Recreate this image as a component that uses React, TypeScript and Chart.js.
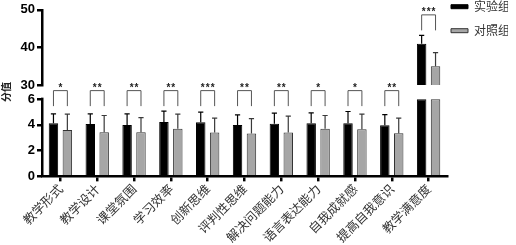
import React, { useEffect, useRef } from 'react';
import { Chart, registerables } from 'chart.js';

Chart.register(...registerables);

// ---- data ----
const categories = ['教学形式', '教学设计', '课堂氛围', '学习效率', '创新思维', '评判性思维', '解决问题能力', '语言表达能力', '自我成就感', '提高自我意识', '教学满意度'];
const seriesNames = ['实验组', '对照组'];
const expMeans = [4.13, 4.06, 4.0, 4.23, 4.21, 4.0, 4.08, 4.13, 4.13, 3.98, 41.0];
const expSD = [0.73, 0.8, 0.86, 0.84, 0.78, 0.78, 0.83, 0.8, 0.91, 0.82, 2.2];
const ctlMeans = [3.61, 3.43, 3.43, 3.7, 3.4, 3.33, 3.4, 3.69, 3.67, 3.35, 35.0];
const ctlSD = [1.22, 1.3, 1.14, 1.13, 1.12, 1.16, 1.28, 1.04, 1.16, 1.17, 3.6];
const significance = ['*', '**', '**', '**', '***', '**', '**', '*', '*', '**', '***'];
const lowerTicks = [0, 2, 4, 6];
const upperTicks = [30, 40, 50];
const axisTitle = '分值';

// ---- axis break ----
const LOW_MIN = 0;
const LOW_BREAK = 6;
const LOW_MAX = 7.1;
const HIGH_MIN = 30;
const HIGH_MAX = 50;

const lowPart = (arr: number[]) => arr.map((v) => Math.min(v, LOW_BREAK));
const highPart = (arr: number[]) => arr.map((v) => (v >= HIGH_MIN ? v : null));

const EXP_COLOR = '#000000';
const CTL_COLOR = '#a6a6a6';
const CTL_BORDER = '#333333';
const Y_AXIS_WIDTH = 42;

const alignPx = (pixel: number, width: number) => Math.round(pixel - width / 2) + width / 2;

const breakAxisPlugin = {
  id: 'breakAxis',
  afterDraw(chart: any) {
    const { ctx } = chart;
    const yLow = chart.scales.yLow;
    const yHigh = chart.scales.yHigh;
    const w = 2.5;
    const x = alignPx(yLow.right, w);
    ctx.save();
    ctx.strokeStyle = '#000';
    ctx.lineWidth = w;
    ctx.beginPath();
    ctx.moveTo(x, yLow.getPixelForValue(LOW_BREAK) - 1.5);
    ctx.lineTo(x, yLow.getPixelForValue(LOW_MIN));
    ctx.stroke();
    // axis title, rotated, centred in the break gap
    const cy = (yHigh.getPixelForValue(HIGH_MIN) + yLow.getPixelForValue(LOW_BREAK)) / 2;
    ctx.translate(6, cy);
    ctx.rotate(-Math.PI / 2);
    ctx.fillStyle = '#222';
    ctx.font = 'bold 10px "Noto Sans CJK SC", sans-serif';
    ctx.textAlign = 'center';
    ctx.textBaseline = 'middle';
    ctx.fillText(axisTitle, 0, 0);
    ctx.restore();
  },
};

const annotationPlugin = {
  id: 'errAndSig',
  afterDatasetsDraw(chart: any) {
    const { ctx } = chart;
    const yLow = chart.scales.yLow;
    const yHigh = chart.scales.yHigh;
    const scaleFor = (v: number) => (v >= HIGH_MIN ? yHigh : yLow);
    const metaExp = chart.getDatasetMeta(0);
    const metaCtl = chart.getDatasetMeta(1);
    ctx.save();
    const groups: any[] = [
      [expMeans, expSD, metaExp, '#000'],
      [ctlMeans, ctlSD, metaCtl, '#3a3a3a'],
    ];
    groups.forEach(([means, sds, meta, color]) => {
      means.forEach((m: number, i: number) => {
        const s = scaleFor(m);
        const x = meta.data[i].x;
        const y0 = s.getPixelForValue(m);
        const y1 = s.getPixelForValue(m + sds[i]);
        ctx.strokeStyle = color;
        ctx.lineWidth = 1.2;
        ctx.beginPath();
        ctx.moveTo(x, y0);
        ctx.lineTo(x, y1);
        ctx.moveTo(x - 2.6, y1);
        ctx.lineTo(x + 2.6, y1);
        ctx.stroke();
      });
    });
    // significance brackets
    const errTops = categories.map((_, i) =>
      Math.min(
        scaleFor(expMeans[i]).getPixelForValue(expMeans[i] + expSD[i]),
        scaleFor(ctlMeans[i]).getPixelForValue(ctlMeans[i] + ctlSD[i])
      )
    );
    const lowIdx = categories.map((_, i) => i).filter((i) => expMeans[i] < HIGH_MIN);
    const lowLevel = Math.min(...lowIdx.map((i) => errTops[i]));
    categories.forEach((_, i) => {
      const level = expMeans[i] < HIGH_MIN ? lowLevel : errTops[i];
      const legBottom = level - 5;
      const top = legBottom - 16;
      const x1 = metaExp.data[i].x;
      const x2 = metaCtl.data[i].x;
      ctx.strokeStyle = '#555';
      ctx.lineWidth = 1;
      ctx.beginPath();
      ctx.moveTo(x1, legBottom);
      ctx.lineTo(x1, top + 0.5);
      ctx.lineTo(x2, top + 0.5);
      ctx.lineTo(x2, legBottom);
      ctx.stroke();
      ctx.fillStyle = '#222';
      ctx.font = 'bold 10px "Liberation Sans", Arial, sans-serif';
      ctx.textAlign = 'center';
      ctx.textBaseline = 'alphabetic';
      (ctx as any).letterSpacing = '1px';
      ctx.fillText(significance[i], (x1 + x2) / 2 + 0.5, top + 1);
    });
    ctx.restore();
  },
};

const legendShiftPlugin = {
  id: 'legendShift',
  afterLayout(chart: any) {
    const lg = chart.legend;
    if (!lg) return;
    const pad = lg.options.labels.padding;
    const dx = chart.chartArea.right + 4 - pad - lg.left;
    const dy = 0.7 - pad - lg.top;
    lg.left += dx;
    lg.right += dx;
    lg.top += dy;
    lg.bottom += dy;
  },
};

export default function App() {
  const canvasRef = useRef<HTMLCanvasElement | null>(null);

  useEffect(() => {
    if (!canvasRef.current) return;
    const tickFont = { family: '"Liberation Sans", Arial, sans-serif', size: 13, weight: 'bold' as const };
    const gridOpts = {
      display: true,
      drawOnChartArea: false,
      drawTicks: true,
      tickLength: 5,
      lineWidth: 2.5,
      tickWidth: 2.5,
      color: '#000',
      tickColor: '#000',
    };
    const fixWidth = (scale: any) => {
      scale.width = Y_AXIS_WIDTH;
    };
    const barCommon = { borderWidth: 1, categoryPercentage: 0.755, barPercentage: 0.68 };
    const chart = new Chart(canvasRef.current, {
      type: 'bar',
      data: {
        labels: categories,
        datasets: [
          { label: seriesNames[0], data: lowPart(expMeans), yAxisID: 'yLow', stack: 'exp', backgroundColor: EXP_COLOR, borderColor: EXP_COLOR, ...barCommon },
          { label: seriesNames[1], data: lowPart(ctlMeans), yAxisID: 'yLow', stack: 'ctl', backgroundColor: CTL_COLOR, borderColor: CTL_BORDER, ...barCommon },
          { label: seriesNames[0], data: highPart(expMeans), yAxisID: 'yHigh', stack: 'exp', backgroundColor: EXP_COLOR, borderColor: EXP_COLOR, ...barCommon },
          { label: seriesNames[1], data: highPart(ctlMeans), yAxisID: 'yHigh', stack: 'ctl', backgroundColor: CTL_COLOR, borderColor: CTL_BORDER, ...barCommon },
        ] as any,
      },
      options: {
        animation: false,
        responsive: true,
        maintainAspectRatio: false,
        layout: { padding: { top: 8, left: 0, right: 0, bottom: 0 } },
        plugins: {
          tooltip: { enabled: false },
          legend: {
            position: 'right',
            align: 'start',
            maxWidth: 69,
            labels: {
              boxWidth: 17,
              boxHeight: 4,
              padding: 12,
              color: '#333',
              font: { family: '"Noto Sans CJK SC", sans-serif', size: 12 },
              filter: (item: any) => item.datasetIndex < 2,
            },
          },
        },
        scales: {
          x: {
            grid: { ...gridOpts, offset: false },
            border: { display: true, width: 2.5, color: '#000' },
            ticks: {
              autoSkip: false,
              minRotation: 45,
              maxRotation: 45,
              padding: 0,
              color: '#333',
              font: { family: '"Noto Sans CJK SC", sans-serif', size: 12.5 },
            },
          },
          yLow: {
            type: 'linear',
            position: 'left',
            stack: 'ybreak',
            stackWeight: 91.5,
            stacked: false,
            min: LOW_MIN,
            max: LOW_MAX,
            afterBuildTicks: (scale: any) => {
              scale.ticks = lowerTicks.map((v) => ({ value: v }));
            },
            afterFit: fixWidth,
            grid: gridOpts,
            border: { display: false },
            ticks: { font: tickFont, color: '#000', padding: 2 },
          },
          yHigh: {
            type: 'linear',
            position: 'left',
            stack: 'ybreak',
            stackWeight: 75.3,
            stacked: false,
            min: HIGH_MIN,
            max: HIGH_MAX,
            afterBuildTicks: (scale: any) => {
              scale.ticks = upperTicks.map((v) => ({ value: v }));
            },
            afterFit: fixWidth,
            grid: gridOpts,
            border: { display: true, width: 2.5, color: '#000' },
            ticks: { font: tickFont, color: '#000', padding: 2 },
          },
        } as any,
      },
      plugins: [breakAxisPlugin, annotationPlugin, legendShiftPlugin],
    });
    return () => chart.destroy();
  }, []);

  return (
    <div style={{ position: 'fixed', left: 0, top: 0, width: 516, height: 245, background: '#fff' }}>
      <canvas ref={canvasRef} />
    </div>
  );
}
